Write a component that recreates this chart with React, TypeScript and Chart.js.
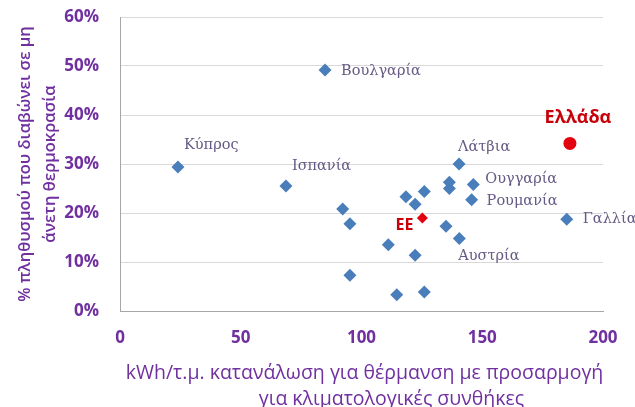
import React, { useEffect, useRef } from "react";
import { Chart, registerables } from "chart.js";

Chart.register(...registerables);

// Countries (blue diamonds)
const countryX = [24, 68.7, 84.9, 140.4, 136.4, 136.4, 146.3, 145.6, 118.4, 126, 122.2, 92.2, 95.2, 135, 140.5, 111.1, 122.2, 95.2, 114.6, 126, 185];
const countryY = [29.4, 25.5, 49.2, 30.0, 26.3, 25.0, 25.8, 22.7, 23.3, 24.4, 21.8, 20.8, 17.8, 17.3, 14.8, 13.5, 11.4, 7.3, 3.3, 3.9, 18.7];
const countryNames = ["Κύπρος", "Ισπανία", "Βουλγαρία", "Λάτβια", "", "", "Ουγγαρία", "Ρουμανία", "", "", "", "", "", "", "Αυστρία", "", "", "", "", "", "Γαλλία"];

// EU average
const euX = [125.2];
const euY = [19.0];
const euName = ["ΕΕ"];

// Greece
const greeceX = [186.3];
const greeceY = [34.2];
const greeceName = ["Ελλάδα"];

const xTicks = [0, 50, 100, 150, 200];
const yTicks = [0, 10, 20, 30, 40, 50, 60];

const xTitle = ["kWh/τ.μ. κατανάλωση για θέρμανση με προσαρμογή", "για κλιματολογικές συνθήκες"];
const yTitle = ["% πληθυσμού που διαβώνει σε μη", "άνετη θερμοκρασία"];

// label placement styles (pixel offsets from the point)
const labelStyle: Record<string, { dx: number; dy: number; align: CanvasTextAlign }> = {
  "Κύπρος": { dx: 6, dy: -22, align: "left" },
  "Ισπανία": { dx: 6, dy: -20, align: "left" },
  "Βουλγαρία": { dx: 16, dy: 1, align: "left" },
  "Λάτβια": { dx: -1, dy: -17, align: "left" },
  "Ουγγαρία": { dx: 12, dy: -5, align: "left" },
  "Ρουμανία": { dx: 15, dy: 1, align: "left" },
  "Γαλλία": { dx: 16, dy: 0, align: "left" },
  "Αυστρία": { dx: -1, dy: 18, align: "left" },
  "ΕΕ": { dx: -9, dy: 8, align: "right" },
  "Ελλάδα": { dx: 8, dy: -26, align: "center" },
};

// x title line placement (offset of line centre from chart-area centre, and from chart-area bottom)
const xTitleStyle = [
  { dx: 3, dy: 62 },
  { dx: 30, dy: 88 },
];

const PURPLE = "#7030A0";
const BLUE = "#4A7EBB";
const RED = "#E3000F";

const labelPlugin = {
  id: "pointLabels",
  afterDatasetsDraw(chart: any) {
    const ctx = chart.ctx;
    const sets: { ds: number; names: string[]; font: string; color: string }[] = [
      { ds: 0, names: countryNames, font: "14.5px 'DejaVu Serif'", color: "#665A85" },
      { ds: 1, names: euName, font: "bold 16px 'Open Sans'", color: "#C8000A" },
      { ds: 2, names: greeceName, font: "bold 18px 'Open Sans'", color: "#C8000A" },
    ];
    ctx.save();
    ctx.textBaseline = "middle";
    for (const s of sets) {
      const meta = chart.getDatasetMeta(s.ds);
      s.names.forEach((name, i) => {
        if (!name) return;
        const el = meta.data[i];
        const st = labelStyle[name];
        ctx.font = s.font;
        ctx.fillStyle = s.color;
        ctx.textAlign = st.align;
        ctx.fillText(name, el.x + st.dx, el.y + st.dy);
      });
    }
    // x axis title
    const ca = chart.chartArea;
    const cx = (ca.left + ca.right) / 2;
    ctx.font = "19.5px 'Open Sans'";
    ctx.fillStyle = PURPLE;
    ctx.textAlign = "center";
    xTitle.forEach((line, i) => {
      ctx.fillText(line, cx + xTitleStyle[i].dx, ca.bottom + xTitleStyle[i].dy);
    });
    ctx.restore();
  },
};

export default function App() {
  const ref = useRef<HTMLCanvasElement | null>(null);
  useEffect(() => {
    document.body.style.margin = "0";
    const chart = new Chart(ref.current!, {
      type: "scatter",
      data: {
        datasets: [
          {
            data: countryX.map((x, i) => ({ x, y: countryY[i] })),
            pointStyle: "rectRot",
            pointRadius: 6.5,
            backgroundColor: BLUE,
            borderColor: BLUE,
            borderWidth: 0,
          },
          {
            data: euX.map((x, i) => ({ x, y: euY[i] })),
            pointStyle: "rectRot",
            pointRadius: 5.5,
            backgroundColor: RED,
            borderColor: RED,
            borderWidth: 0,
          },
          {
            data: greeceX.map((x, i) => ({ x, y: greeceY[i] })),
            pointStyle: "circle",
            pointRadius: 6.5,
            backgroundColor: RED,
            borderColor: RED,
            borderWidth: 0,
          },
        ],
      },
      options: {
        animation: false,
        responsive: true,
        maintainAspectRatio: false,
        layout: { padding: { top: 17, right: 32, bottom: 0, left: 0 } },
        plugins: { legend: { display: false }, tooltip: { enabled: false } },
        scales: {
          x: {
            type: "linear",
            min: xTicks[0],
            max: xTicks[xTicks.length - 1],
            afterBuildTicks: (s: any) => { s.ticks = xTicks.map((v) => ({ value: v })); },
            afterFit: (s: any) => { s.height = 96; s.paddingLeft = 0; s.paddingRight = 0; },
            grid: { display: false, drawTicks: false },
            border: { display: true, color: "#A6A6A6", width: 1 },
            ticks: { color: PURPLE, font: { family: "'Open Sans'", size: 17, weight: "bold" }, padding: 17 },
            title: { display: false },
          },
          y: {
            type: "linear",
            min: yTicks[0],
            max: yTicks[yTicks.length - 1],
            afterBuildTicks: (s: any) => { s.ticks = yTicks.map((v) => ({ value: v })); },
            afterFit: (s: any) => { s.width = 120; s.paddingTop = 0; s.paddingBottom = 0; },
            grid: { color: "#D9D9D9", drawTicks: false },
            border: { display: true, color: "#A6A6A6", width: 1 },
            ticks: {
              color: PURPLE,
              font: { family: "'Open Sans'", size: 17, weight: "bold" },
              padding: 21,
              callback: (v: any) => v + "%",
            },
            title: {
              display: true,
              text: yTitle,
              color: PURPLE,
              font: { family: "'Open Sans'", size: 16.5, weight: 600, lineHeight: 1.5 },
              padding: { top: 13, bottom: 0 },
            },
          },
        },
      },
      plugins: [labelPlugin],
    });
    return () => chart.destroy();
  }, []);
  return (
    <div style={{ position: "absolute", left: 0, top: 0, width: 635, height: 407 }}>
      <canvas ref={ref} />
    </div>
  );
}
